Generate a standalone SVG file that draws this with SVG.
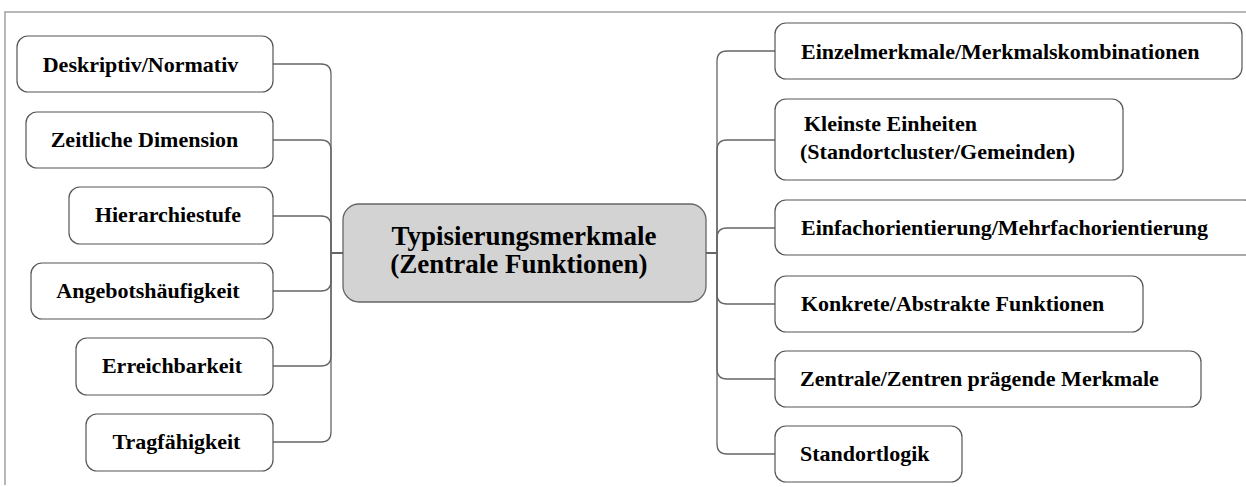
<svg xmlns="http://www.w3.org/2000/svg" width="1246" height="487" viewBox="0 0 1246 487">
<style>
.frame{fill:none;stroke:#a0a0a0;stroke-width:1.5}
.box{fill:#ffffff;stroke:#555555;stroke-width:1.2}
.center{fill:#d3d3d3;stroke:#666666;stroke-width:1.3}
.conn{fill:none;stroke:#666666;stroke-width:1.3}
.t{font-family:"Liberation Serif","Times New Roman",serif;font-weight:bold;font-size:22px;fill:#000}
.tc{font-family:"Liberation Serif","Times New Roman",serif;font-weight:bold;font-size:27px;fill:#000;text-anchor:middle}
.m{text-anchor:middle}
</style>
<rect width="1246" height="487" fill="#ffffff"/>
<path class="frame" d="M5,485 V12 H1246"/>
<g id="connectors">
<path class="conn" d="M343,253 H331 V74 Q331,64 321,64 H273"/>
<path class="conn" d="M343,253 H331 V150 Q331,140 321,140 H273"/>
<path class="conn" d="M343,253 H331 V226 Q331,216 321,216 H273"/>
<path class="conn" d="M343,253 H331 V281 Q331,291 321,291 H273"/>
<path class="conn" d="M343,253 H331 V356 Q331,366 321,366 H273"/>
<path class="conn" d="M343,253 H331 V432 Q331,442 321,442 H273"/>
<path class="conn" d="M706,253 H717 V61 Q717,51 727,51 H775"/>
<path class="conn" d="M706,253 H717 V150 Q717,140 727,140 H775"/>
<path class="conn" d="M706,253 H717 V238 Q717,228 727,228 H775"/>
<path class="conn" d="M706,253 H717 V294 Q717,304 727,304 H775"/>
<path class="conn" d="M706,253 H717 V369 Q717,379 727,379 H775"/>
<path class="conn" d="M706,253 H717 V444 Q717,454 727,454 H775"/>
</g>
<g id="center">
<rect class="center" x="343" y="204" width="363" height="98" rx="16"/>
<text class="tc" x="524" y="245">Typisierungsmerkmale</text>
<text class="tc" x="519" y="273">(Zentrale Funktionen)</text>
</g>
<g id="n-deskriptiv">
<rect class="box" x="17" y="36" width="256" height="56" rx="11"/>
<text class="t m" x="140.5" y="72">Deskriptiv/Normativ</text>
</g>
<g id="n-zeitlich">
<rect class="box" x="26" y="112" width="247" height="56" rx="11"/>
<text class="t m" x="144.5" y="147">Zeitliche Dimension</text>
</g>
<g id="n-hierarchie">
<rect class="box" x="69" y="187" width="204" height="57" rx="11"/>
<text class="t m" x="168" y="222">Hierarchiestufe</text>
</g>
<g id="n-angebot">
<rect class="box" x="31" y="263" width="242" height="56" rx="11"/>
<text class="t m" x="148" y="298">Angebotshäufigkeit</text>
</g>
<g id="n-erreich">
<rect class="box" x="76" y="338" width="197" height="57" rx="11"/>
<text class="t m" x="172" y="373">Erreichbarkeit</text>
</g>
<g id="n-trag">
<rect class="box" x="86" y="414" width="187" height="57" rx="11"/>
<text class="t m" x="176.5" y="449">Tragfähigkeit</text>
</g>
<g id="n-einzel">
<rect class="box" x="775" y="23" width="467" height="56" rx="11"/>
<text class="t" x="801" y="59">Einzelmerkmale/Merkmalskombinationen</text>
</g>
<g id="n-kleinste">
<rect class="box" x="775" y="99" width="348" height="81" rx="11"/>
<text class="t" x="804" y="131">Kleinste Einheiten</text>
<text class="t" x="800" y="159">(Standortcluster/Gemeinden)</text>
</g>
<g id="n-einfach">
<rect class="box" x="775" y="200" width="480" height="55" rx="11"/>
<text class="t" x="801" y="235">Einfachorientierung/Mehrfachorientierung</text>
</g>
<g id="n-konkret">
<rect class="box" x="775" y="276" width="368" height="56" rx="11"/>
<text class="t" x="801" y="311">Konkrete/Abstrakte Funktionen</text>
</g>
<g id="n-zentrale">
<rect class="box" x="775" y="351" width="426" height="56" rx="11"/>
<text class="t" x="800" y="386">Zentrale/Zentren prägende Merkmale</text>
</g>
<g id="n-standort">
<rect class="box" x="775" y="426" width="187" height="56" rx="11"/>
<text class="t" x="800" y="461">Standortlogik</text>
</g>
</svg>
